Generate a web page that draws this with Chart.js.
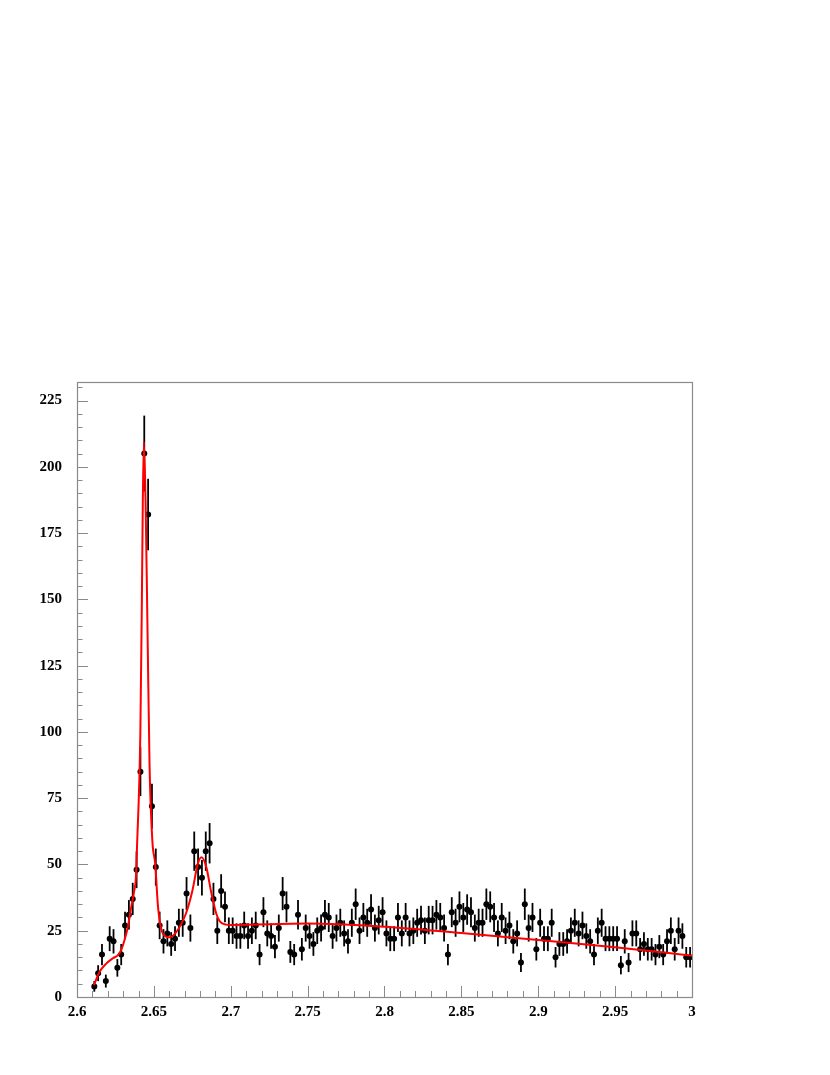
<!DOCTYPE html>
<html>
<head>
<meta charset="utf-8">
<script src="https://cdn.jsdelivr.net/npm/chart.js@4.4.1/dist/chart.umd.min.js"></script>
<style>
html,body{margin:0;padding:0;background:#fff;}
canvas{display:block;}
</style>
</head>
<body>
<canvas id="c" width="830" height="1075"></canvas>
<script>
// ---- data ----
const binStart = 2.61;      // lower edge of first bin
const binWidth = 0.0025;    // histogram bin width
const counts = [
  4, 9, 16, 6, 22, 21, 11, 16, 27, 31,
  37, 48, 85, 205, 182, 72, 49, 27, 21, 24,
  20, 22, 28, 28, 39, 26, 55, 49, 45, 55,
  58, 37, 25, 40, 34, 25, 25, 23, 23, 27,
  23, 25, 27, 16, 32, 24, 23, 19, 26, 39,
  34, 17, 16, 31, 18, 26, 23, 20, 25, 26,
  31, 30, 23, 26, 28, 24, 21, 28, 35, 25,
  30, 28, 33, 26, 29, 32, 24, 22, 22, 30,
  24, 30, 24, 25, 28, 29, 25, 29, 29, 31,
  30, 26, 16, 32, 28, 34, 30, 33, 32, 26,
  28, 28, 35, 34, 30, 24, 30, 25, 27, 21,
  24, 13, 35, 26, 30, 18, 28, 22, 22, 28,
  15, 20, 20, 21, 25, 28, 24, 27, 23, 21,
  16, 25, 28, 22, 22, 22, 22, 12, 21, 13,
  24, 24, 18, 20, 18, 18, 16, 19, 16, 21,
  25, 18, 25, 23, 15, 15
];
const fitX = [2.6110, 2.6146, 2.6190, 2.6233, 2.6266, 2.6288, 2.6309, 2.6331, 2.6353, 2.6372,
              2.6383, 2.6390, 2.6412, 2.6422, 2.6428, 2.6435, 2.6446, 2.6459, 2.6472, 2.6490,
              2.6509, 2.6527, 2.6558, 2.6600, 2.6643, 2.6708, 2.6749, 2.6787, 2.6810, 2.6841,
              2.6873, 2.6906, 2.6930, 2.6970, 2.7000, 2.7500, 2.8000, 2.8500, 2.9000, 2.9500, 3.0000];
const fitY = [4.5, 9.4, 12.6, 14.6, 15.8, 17.8, 21.5, 26.5, 34, 40,
              45, 56, 99.5, 150, 187, 209.5, 187, 137, 87, 59,
              50, 34, 24, 22.5, 24.3, 31.4, 39.7, 50.5, 52.7, 49,
              39.5, 31.4, 28.4, 27.3, 27.2, 27.7, 26.5, 24.1, 21.5, 18.8, 15.6];
const xTicks = [2.6, 2.65, 2.7, 2.75, 2.8, 2.85, 2.9, 2.95, 3.0];
const xTickLabels = ['2.6', '2.65', '2.7', '2.75', '2.8', '2.85', '2.9', '2.95', '3'];
const yTicks = [0, 25, 50, 75, 100, 125, 150, 175, 200, 225];
const yTickLabels = ['0', '25', '50', '75', '100', '125', '150', '175', '200', '225'];

// ---- build chart ----
const histPoints = counts.map((c, i) => ({ x: binStart + binWidth * (i + 0.5), y: c }));
const fitPoints = fitX.map((x, i) => ({ x: x, y: fitY[i] }));

const FONT = { family: "'Liberation Serif', 'Times New Roman', serif", size: 15, weight: 'bold' };
const AXIS_COLOR = '#8a8a8a';

const errorBars = {
  id: 'errorBars',
  beforeDatasetsDraw(chart) {
    const ctx = chart.ctx, xs = chart.scales.x, ys = chart.scales.y;
    ctx.save();
    ctx.strokeStyle = '#000';
    ctx.lineWidth = 1.8;
    histPoints.forEach(p => {
      const e = Math.sqrt(p.y);
      const px = xs.getPixelForValue(p.x);
      ctx.beginPath();
      ctx.moveTo(px, ys.getPixelForValue(p.y - e));
      ctx.lineTo(px, ys.getPixelForValue(p.y + e));
      ctx.stroke();
    });
    ctx.restore();
  }
};

const frameTicks = {
  id: 'frameTicks',
  afterDraw(chart) {
    const ctx = chart.ctx, a = chart.chartArea, xs = chart.scales.x, ys = chart.scales.y;
    ctx.save();
    ctx.strokeStyle = AXIS_COLOR;
    ctx.lineWidth = 1.2;
    ctx.strokeRect(a.left + 0.5, a.top + 0.5, a.right - a.left, a.bottom - a.top);
    ctx.lineWidth = 1;
    // y ticks (inside)
    for (let i = 0; i < yTicks.length; i++) {
      const v = yTicks[i];
      let y = Math.round(ys.getPixelForValue(v)) + 0.5;
      ctx.beginPath(); ctx.moveTo(a.left, y); ctx.lineTo(a.left + 11, y); ctx.stroke();
      for (let m = 1; m < 5; m++) {
        const mv = v + m * 5;
        if (mv > ys.max) break;
        y = Math.round(ys.getPixelForValue(mv)) + 0.5;
        ctx.beginPath(); ctx.moveTo(a.left, y); ctx.lineTo(a.left + 5.5, y); ctx.stroke();
      }
    }
    // x ticks (inside)
    for (let i = 0; i < xTicks.length; i++) {
      const v = xTicks[i];
      let x = Math.round(xs.getPixelForValue(v)) + 0.5;
      ctx.beginPath(); ctx.moveTo(x, a.bottom); ctx.lineTo(x, a.bottom - 11); ctx.stroke();
      if (i < xTicks.length - 1) {
        for (let m = 1; m < 5; m++) {
          const mv = v + (xTicks[i + 1] - v) * m / 5;
          x = Math.round(xs.getPixelForValue(mv)) + 0.5;
          ctx.beginPath(); ctx.moveTo(x, a.bottom); ctx.lineTo(x, a.bottom - 6); ctx.stroke();
        }
      }
    }
    ctx.restore();
  }
};

new Chart(document.getElementById('c'), {
  type: 'scatter',
  data: {
    datasets: [
      {
        label: 'fit',
        type: 'line',
        data: fitPoints,
        borderColor: '#ff0000',
        borderWidth: 2,
        pointRadius: 0,
        fill: false,
        cubicInterpolationMode: 'monotone',
        order: 0
      },
      {
        label: 'data',
        data: histPoints,
        showLine: false,
        pointRadius: 3,
        pointBackgroundColor: '#000',
        pointBorderColor: '#000',
        pointBorderWidth: 0,
        order: 1
      }
    ]
  },
  options: {
    responsive: false,
    animation: false,
    devicePixelRatio: 1,
    layout: { padding: { left: 0, right: 138, top: 382, bottom: 48 } },
    plugins: { legend: { display: false }, tooltip: { enabled: false } },
    scales: {
      x: {
        type: 'linear',
        min: 2.6, max: 3.0,
        grid: { display: false, drawTicks: false },
        border: { display: false },
        afterBuildTicks: s => { s.ticks = xTicks.map(v => ({ value: v })); },
        afterFit: s => { s.height = 30; },
        ticks: {
          padding: 6,
          color: '#000',
          font: FONT,
          maxRotation: 0,
          autoSkip: false,
          callback: (v, i) => xTickLabels[i]
        }
      },
      y: {
        type: 'linear',
        min: 0, max: 232,
        grid: { display: false, drawTicks: false },
        border: { display: false },
        afterBuildTicks: s => { s.ticks = yTicks.map(v => ({ value: v })); },
        afterFit: s => { s.width = 77; },
        ticks: {
          padding: 15,
          color: '#000',
          font: FONT,
          autoSkip: false,
          callback: (v, i) => yTickLabels[i]
        }
      }
    }
  },
  plugins: [errorBars, frameTicks]
});
</script>
</body>
</html>
